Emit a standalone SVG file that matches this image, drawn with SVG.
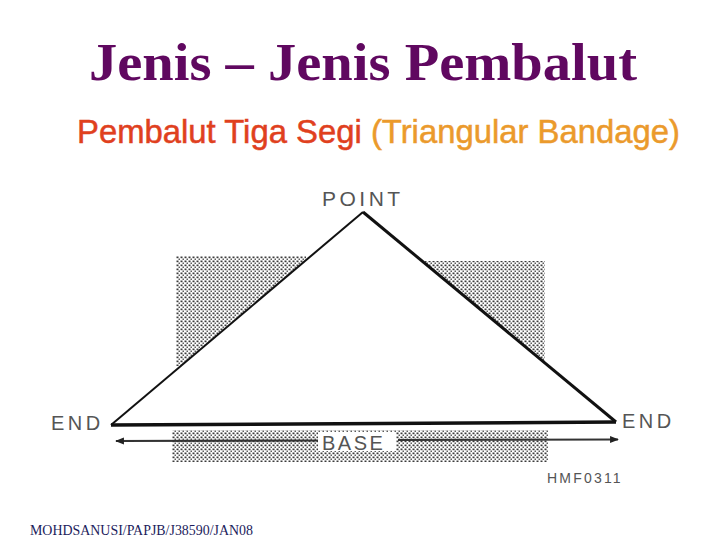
<svg xmlns="http://www.w3.org/2000/svg" width="720" height="540" viewBox="0 0 720 540">
<defs>
<pattern id="stip" width="4" height="4" patternUnits="userSpaceOnUse">
<rect x="0.5" y="0.5" width="2" height="1.7" fill="#3c3c3c"/>
<rect x="2.5" y="2.5" width="2" height="1.7" fill="#5c5c5c"/>
</pattern>
<marker id="ah" viewBox="0 0 10 10" refX="9" refY="5" markerWidth="5" markerHeight="4" orient="auto-start-reverse" markerUnits="strokeWidth">
<path d="M0,1 L10,5 L0,9 Z" fill="#222"/>
</marker>
<style>
.lbl{font-family:"Liberation Sans",Arial,sans-serif;fill:#555;}
</style>
</defs>
<rect width="720" height="540" fill="#fff"/>
<g id="title">
<text x="89" y="80" font-family="Liberation Serif,'Times New Roman',serif" font-weight="bold" font-size="52" fill="#600860" textLength="548" lengthAdjust="spacingAndGlyphs">Jenis – Jenis Pembalut</text>
</g>
<g id="subtitle">
<text x="77" y="143" font-family="Liberation Sans,Arial,sans-serif" font-size="33" stroke-width="0.5" textLength="603" lengthAdjust="spacingAndGlyphs"><tspan fill="#e0401e" stroke="#e0401e">Pembalut Tiga Segi </tspan><tspan fill="#eb9a2c" stroke="#eb9a2c">(Triangular Bandage)</tspan></text>
</g>
<g id="stipple">
<rect x="176" y="256" width="130" height="110" fill="url(#stip)"/>
<rect x="425" y="261" width="120" height="100" fill="url(#stip)"/>
<rect x="172" y="430" width="376" height="32" fill="url(#stip)"/>
</g>
<g id="bandage">
<polygon points="363,212 111,425 616,422" fill="#fff" stroke="none"/>
<path d="M111,425 L363,212" stroke="#111" stroke-width="2" fill="none"/>
<path d="M363,212 L616,422" stroke="#111" stroke-width="3" fill="none"/>
<path d="M111,425 L616,422" stroke="#111" stroke-width="3.5" fill="none"/>
</g>
<g id="connectors">
<line x1="116" y1="441" x2="320" y2="440.5" stroke="#333" stroke-width="2.2" marker-start="url(#ah)"/>
<line x1="398" y1="440" x2="618" y2="439.5" stroke="#333" stroke-width="2.2" marker-end="url(#ah)"/>
</g>
<g id="labels">
<rect x="318" y="432" width="78" height="19" fill="#fff"/>
<text class="lbl" x="322" y="206" font-size="21" letter-spacing="3.5">POINT</text>
<text class="lbl" x="51" y="430" font-size="20" letter-spacing="3.5">END</text>
<text class="lbl" x="622" y="428" font-size="20" letter-spacing="3.5">END</text>
<text class="lbl" x="322" y="450" font-size="20" letter-spacing="2.5">BASE</text>
<text class="lbl" x="547" y="483" font-size="14" letter-spacing="2.2" fill="#444">HMF0311</text>
</g>
<g id="footer">
<text x="30" y="535" font-family="Liberation Serif,'Times New Roman',serif" font-size="14" fill="#1c1c5c" textLength="223" lengthAdjust="spacingAndGlyphs">MOHDSANUSI/PAPJB/J38590/JAN08</text>
</g>
</svg>
